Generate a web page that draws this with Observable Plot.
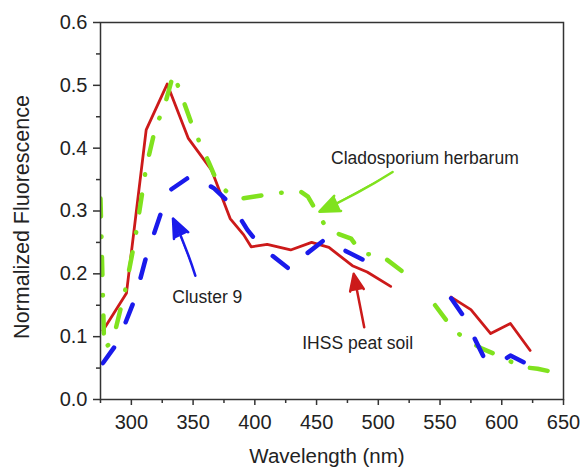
<!DOCTYPE html>
<html>
<head>
<meta charset="utf-8">
<script src="https://cdn.jsdelivr.net/npm/d3@7"></script>
<script src="https://cdn.jsdelivr.net/npm/@observablehq/plot@0.6"></script>
<style>
  html, body { margin: 0; padding: 0; background: #fff; }
  #chart { width: 582px; height: 467px; }
</style>
</head>
<body>
<div id="chart"></div>
<script>
// ---- Data ----
const xMajorTicks = [300, 350, 400, 450, 500, 550, 600, 650];
const xMinorTicks = [275, 325, 375, 425, 475, 525, 575, 625];
const yMajorTicks = [0, 0.1, 0.2, 0.3, 0.4, 0.5, 0.6];
const yMinorTicks = [0.05, 0.15, 0.25, 0.35, 0.45, 0.55];

// IHSS peat soil (solid red); NaN marks a gap in the record
const peatX = [277, 296, 312, 329, 346, 365, 380, 391, 397, 410, 429, 446, 460, 479, 491, 510, NaN, 559, 575, 591, 607, 623];
const peatY = [0.110, 0.169, 0.429, 0.502, 0.416, 0.365, 0.288, 0.262, 0.243, 0.247, 0.238, 0.250, 0.242, 0.213, 0.203, 0.180, NaN, 0.163, 0.143, 0.105, 0.121, 0.078];

// Cluster 9 (dashed blue)
const clusterX = [277, 289, 303, 312, 324, 332, 349, 367, 382, 394, 405, 429, 438, 455, 462, 470, 489, 495, 505, NaN, 559, 570, 579, 587, 601, 607, 618];
const clusterY = [0.058, 0.091, 0.161, 0.227, 0.297, 0.334, 0.357, 0.336, 0.308, 0.270, 0.243, 0.206, 0.226, 0.252, 0.256, 0.240, 0.221, 0.223, 0.239, NaN, 0.161, 0.130, 0.093, 0.061, 0.062, 0.070, 0.059];

// Cladosporium herbarum (dash-dot green)
const cladoX = [275, 278, 282.5, 287, 295, 303, 312, 320, 326, 334, 339, 350, 363, 370, 382, 390, 400, 413, 429, 437, 443, 451, 459, 478, 487, 502, 520, NaN, 546, 560, 571, 584, 603, 615, 629, 648];
const cladoY = [0.320, 0.081, 0.089, 0.110, 0.174, 0.255, 0.370, 0.437, 0.461, 0.518, 0.493, 0.432, 0.376, 0.344, 0.322, 0.320, 0.323, 0.327, 0.331, 0.331, 0.323, 0.296, 0.270, 0.256, 0.232, 0.230, 0.203, NaN, 0.150, 0.113, 0.095, 0.081, 0.065, 0.052, 0.049, 0.041];

// Annotations (data units)
const labelNames = ["Cladosporium herbarum", "Cluster 9", "IHSS peat soil"];
const labelX = [537.7, 361.5, 483.3];
const labelY = [0.384, 0.163, 0.090];
const arrowX1 = [511.6, 351.8, 488.6];
const arrowY1 = [0.362, 0.197, 0.115];
const arrowX2 = [452.3, 333.7, 480.1];
const arrowY2 = [0.299, 0.288, 0.200];
const arrowBend = [4, -4, 0];

const colors = ["#80e21e", "#1a1aeb", "#cc1a1a"];

// ---- Build tables ----
const toRows = (xs, ys) => xs.map((x, i) => ({x, y: ys[i]}));
const peat = toRows(peatX, peatY);
const cluster = toRows(clusterX, clusterY);
const clado = toRows(cladoX, cladoY);
const labels = labelNames.map((t, i) => ({t, x: labelX[i], y: labelY[i], c: colors[i]}));
const arrows = labelNames.map((t, i) => ({x1: arrowX1[i], y1: arrowY1[i], x2: arrowX2[i], y2: arrowY2[i], bend: arrowBend[i], c: colors[i]}));

const font = "'Liberation Sans', Arial, Helvetica, sans-serif";

const chart = Plot.plot({
  width: 582,
  height: 467,
  marginLeft: 100,
  marginRight: 19,
  marginTop: 22,
  marginBottom: 68,
  style: {fontFamily: font, background: "#fff", color: "#222"},
  x: {domain: [275, 650], axis: null},
  y: {domain: [0, 0.6], axis: null},
  marks: [
    Plot.line(peat, {x: "x", y: "y", stroke: colors[2], strokeWidth: 2.8, clip: true}),
    Plot.line(clado, {x: "x", y: "y", stroke: colors[0], strokeWidth: 4.5, strokeDasharray: "18,20,0.5,20", strokeLinecap: "round", clip: true}),
    Plot.line(cluster, {x: "x", y: "y", stroke: colors[1], strokeWidth: 4.5, strokeDasharray: "19,28", strokeLinecap: "round", clip: true}),
    ...arrows.map(a => Plot.arrow([a], {x1: "x1", y1: "y1", x2: "x2", y2: "y2", bend: a.bend, stroke: a.c, fill: a.c, strokeWidth: 2.5, headLength: 13, headAngle: 45})),
    Plot.text(labels, {x: "x", y: "y", text: "t", fontSize: 17.5, fill: "#222"}),
    Plot.frame({stroke: "#333", strokeWidth: 1.5}),
    Plot.axisX({ticks: xMajorTicks, tickSize: 6, tickPadding: 9, fontSize: 20, label: null, stroke: "#333", strokeWidth: 1.5, fill: "#222"}),
    Plot.axisX({ticks: xMinorTicks, tickSize: 4, tickFormat: () => "", label: null, stroke: "#333", strokeWidth: 1.5}),
    Plot.axisY({ticks: yMajorTicks, tickSize: 7, tickPadding: 6, tickFormat: d3.format(".1f"), fontSize: 20, label: null, stroke: "#333", strokeWidth: 1.5, fill: "#222"}),
    Plot.axisY({ticks: yMinorTicks, tickSize: 4, tickFormat: () => "", label: null, stroke: "#333", strokeWidth: 1.5}),
    Plot.text(["Wavelength (nm)"], {frameAnchor: "bottom", text: d => d, textAnchor: "middle", lineAnchor: "middle", dy: 57, dx: -5, fontSize: 20.5, fill: "#222"}),
    Plot.text(["Normalized Fluorescence"], {frameAnchor: "left", text: d => d, textAnchor: "middle", lineAnchor: "middle", rotate: -90, dx: -78, dy: 6, fontSize: 21.5, fill: "#222"})
  ]
});
document.getElementById("chart").appendChild(chart);
</script>
</body>
</html>
